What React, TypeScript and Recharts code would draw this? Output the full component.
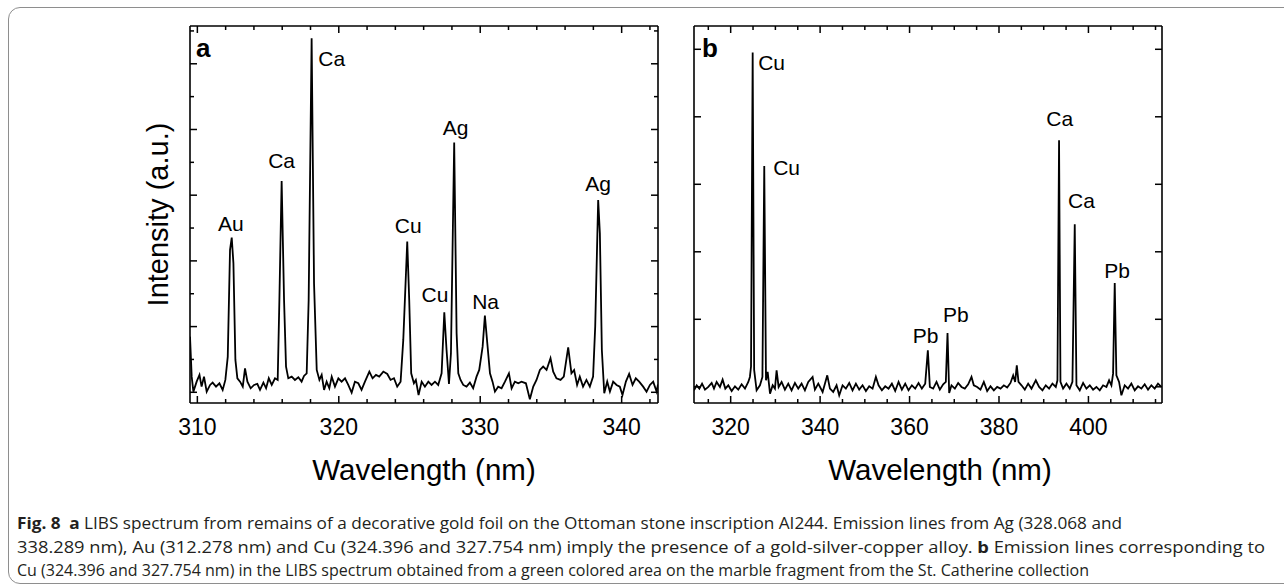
import { LineChart, Line, XAxis, YAxis, ReferenceDot } from "recharts";

const FONT = '"Liberation Sans", Arial, Helvetica, sans-serif';
const CAPTION_FONT = '"Open Sans", "Noto Sans", sans-serif';

// panel a: wavelength (nm), intensity (a.u.)
const spectrumA: [number, number][] = [
  [309.48, 847], [309.6, 238], [309.72, 10], [309.95, 162], [310.15, 264], [310.3, 86],
  [310.47, 238], [310.66, 10], [310.9, 112], [311.08, 147], [311.32, 86], [311.56, 137],
  [311.79, 36], [311.98, 188], [312.15, 543], [312.31, 2167], [312.43, 2354], [312.55, 1964],
  [312.69, 492], [312.83, 213], [313.02, 162], [313.21, 86], [313.37, 365], [313.54, 162],
  [313.77, 61], [314.01, 112], [314.24, 127], [314.43, 36], [314.67, 147], [314.86, 61],
  [315.05, 213], [315.26, 112], [315.49, 213], [315.68, 188], [315.8, 1405], [315.96, 3216],
  [316.13, 1405], [316.27, 391], [316.43, 213], [316.67, 238], [316.9, 188], [317.14, 228],
  [317.37, 162], [317.54, 249], [317.73, 289], [317.87, 1405], [318.08, 5388], [318.25, 1659],
  [318.44, 340], [318.63, 188], [318.79, 264], [318.96, 36], [319.14, 162], [319.33, 61],
  [319.5, 238], [319.73, 86], [319.97, 213], [320.2, 162], [320.44, 213], [320.67, 112],
  [320.91, -5], [321.14, 162], [321.38, 137], [321.61, 36], [321.85, 162], [322.16, 315],
  [322.39, 213], [322.63, 264], [322.86, 238], [323.15, 315], [323.43, 279], [323.66, 188],
  [323.9, 213], [324.13, 86], [324.37, 162], [324.56, 797], [324.84, 2293], [324.98, 1405],
  [325.12, 289], [325.31, 137], [325.45, 188], [325.64, -41], [325.86, 162], [326.09, 86],
  [326.33, 162], [326.56, 112], [326.8, 162], [327.03, 112], [327.27, 289], [327.46, 1218],
  [327.62, 644], [327.79, 127], [327.93, 594], [328.16, 3800], [328.33, 898], [328.45, 289],
  [328.61, 188], [328.8, 112], [329.03, 86], [329.27, 147], [329.5, 61], [329.74, 238],
  [329.93, 340], [330.17, 695], [330.33, 1167], [330.5, 746], [330.69, 289], [330.87, 162],
  [331.04, 10], [331.27, 86], [331.51, 61], [331.75, 162], [332.03, 289], [332.22, 61],
  [332.45, 162], [332.69, 137], [332.92, 162], [333.23, 137], [333.51, -107], [333.75, 86],
  [333.98, 188], [334.22, 340], [334.45, 391], [334.69, 340], [334.97, 518], [335.16, 315],
  [335.39, 213], [335.68, 188], [335.91, 238], [336.22, 685], [336.45, 289], [336.64, 340],
  [336.85, 112], [337.04, 238], [337.27, 86], [337.51, 188], [337.75, 86], [337.98, 238],
  [338.13, 1000], [338.34, 2927], [338.46, 2420], [338.6, 644], [338.77, -15], [338.98, 162],
  [339.17, 10], [339.4, 162], [339.64, 112], [339.87, 86], [340.06, -41], [340.3, 162],
  [340.53, 279], [340.77, 112], [341.0, 213], [341.24, 162], [341.52, 86], [341.76, 10],
  [342.0, 112], [342.23, 162], [342.47, 10], [342.57, 120],
];

// panel b
const spectrumB: [number, number][] = [
  [311.8, -52], [312.4, 22], [313.0, -27], [313.6, 47], [314.26, -42], [315.0, -2],
  [315.75, 57], [316.27, -27], [316.86, 72], [317.6, -2], [318.2, 106], [318.8, -27],
  [319.47, 22], [320.22, -62], [320.96, 7], [321.7, -42], [322.45, 37], [323.2, -27],
  [323.94, 72], [324.3, 146], [324.55, 300], [324.92, 4951], [325.25, 250], [325.8, -52],
  [326.55, 22], [327.1, 146], [327.51, 3271], [327.9, 96], [328.27, 220], [328.8, -101],
  [329.39, 22], [329.9, -27], [330.27, 244], [330.72, -2], [331.39, 72], [332.13, -42],
  [332.88, 47], [333.62, -52], [334.37, 57], [335.11, -27], [335.86, 47], [336.6, -52],
  [337.35, 72], [338.32, 146], [338.84, -42], [339.59, 47], [340.56, -77], [341.6, 170],
  [342.2, -27], [342.93, -77], [343.68, 22], [344.27, -126], [345.02, 22], [345.76, -27],
  [346.51, 57], [347.25, -52], [348.0, 47], [348.74, -42], [349.49, 22], [350.24, -62],
  [350.98, 7], [351.73, -27], [352.47, 146], [353.07, 22], [353.81, -52], [354.56, 7],
  [355.3, -27], [356.05, 47], [356.79, -62], [357.54, 72], [358.28, -42], [359.03, 47],
  [359.77, -52], [360.52, 22], [361.26, -27], [362.01, 57], [362.75, -27], [363.5, 47],
  [364.09, 541], [364.54, -2], [365.28, -27], [366.03, 72], [366.77, -42], [367.52, 37],
  [368.11, 72], [368.49, 797], [368.86, -91], [369.38, 22], [370.13, -27], [370.87, 57],
  [371.62, -2], [372.36, -27], [373.11, 37], [373.85, 146], [374.37, 22], [375.12, -2],
  [375.86, -42], [376.61, 72], [377.36, -62], [378.1, 7], [378.85, -52], [379.59, -2],
  [380.34, -27], [381.08, 22], [381.83, -12], [382.57, 57], [383.17, 170], [383.61, 72],
  [383.98, 318], [384.36, 72], [385.03, 22], [385.77, -42], [386.52, 47], [387.26, -27],
  [388.23, 96], [388.97, -2], [389.72, -52], [390.46, 22], [391.21, -27], [391.95, 47],
  [392.7, -2], [393.07, 96], [393.43, 3652], [393.74, 72], [394.33, -27], [395.08, 47],
  [395.82, -27], [396.42, 72], [396.94, 2407], [397.32, 22], [398.06, -52], [398.81, 57],
  [399.55, -27], [400.3, 22], [401.04, -42], [401.79, -2], [402.53, -52], [403.28, 22],
  [404.02, -2], [404.62, 96], [405.14, 22], [405.51, 195], [405.88, 1538], [406.25, 170],
  [406.85, 72], [407.37, -126], [408.11, 22], [408.86, -27], [409.6, 47], [410.35, -52],
  [411.09, 7], [411.84, -27], [412.58, 37], [413.33, -42], [414.07, 22], [414.82, -27],
  [415.56, 47], [416.31, -2],
];

const xTicksA = [310, 312, 314, 316, 318, 320, 322, 324, 326, 328, 330, 332, 334, 336, 338, 340, 342];
const yTicksA = [0, 500, 1000, 1500, 2000, 2500, 3000, 3500, 4000, 4500, 5000, 5500];
const xTicksB = [315, 320, 325, 330, 335, 340, 345, 350, 355, 360, 365, 370, 375, 380, 385, 390, 395, 400, 405, 410, 415];
const yTicksB = [0, 1000, 2000, 3000, 4000, 5000];

const peaksA = [
  { text: "Au", nm: 312.36, y: 2572 },
  { text: "Ca", nm: 315.96, y: 3525 },
  { text: "Ca", nm: 319.5, y: 5073 },
  { text: "Cu", nm: 324.91, y: 2531 },
  { text: "Cu", nm: 326.8, y: 1492 },
  { text: "Ag", nm: 328.26, y: 4033 },
  { text: "Na", nm: 330.38, y: 1379 },
  { text: "Ag", nm: 338.34, y: 3170 },
];

const peaksB = [
  { text: "Cu", nm: 329.16, y: 4797 },
  { text: "Cu", nm: 332.51, y: 3241 },
  { text: "Pb", nm: 363.58, y: 753 },
  { text: "Pb", nm: 370.35, y: 1070 },
  { text: "Ca", nm: 393.59, y: 3973 },
  { text: "Ca", nm: 398.44, y: 2753 },
  { text: "Pb", nm: 406.39, y: 1726 },
];

type Side = "bottom" | "top" | "left" | "right";

function makeTick(side: Side, isMajor: (v: number) => boolean, labels: boolean, majorLen = 7, minorLen = 4) {
  return (props: any) => {
    const { x, y, payload } = props;
    const v = payload.value;
    const len = isMajor(v) ? majorLen : minorLen;
    let x2 = x;
    let y2 = y;
    if (side === "bottom") y2 = y - len;
    if (side === "top") y2 = y + len;
    if (side === "left") x2 = x + len;
    if (side === "right") x2 = x - len;
    return (
      <g>
        <line x1={x} y1={y} x2={x2} y2={y2} stroke="#000" strokeWidth={1.5} />
        {labels && isMajor(v) && (
          <text x={x} y={y + 32} textAnchor="middle" fontSize={23} fontFamily={FONT} fill="#000">
            {v}
          </text>
        )}
      </g>
    );
  };
}

const axisLine = { stroke: "#000", strokeWidth: 1.6 };
const peakLabel = (text: string) => ({
  value: text,
  position: "center" as const,
  fill: "#000",
  fontSize: 21,
  fontFamily: FONT,
});
const panelLabel = (text: string) => ({
  value: text,
  position: "center" as const,
  fill: "#000",
  fontSize: 26,
  fontWeight: 700,
  fontFamily: FONT,
});

function Panel(props: {
  data: [number, number][];
  xDomain: [number, number];
  yDomain: [number, number];
  xTicks: number[];
  yTicks: number[];
  xMajor: (v: number) => boolean;
  yMajor: (v: number) => boolean;
  yMinorLen: number;
  peaks: { text: string; nm: number; y: number }[];
  letter: { text: string; nm: number; y: number };
  margin: { top: number; right: number; bottom: number; left: number };
  width: number;
  yLabel?: boolean;
  xLabelDx?: number;
}) {
  const rows = props.data.map(([nm, v]) => ({ nm, v }));
  return (
    <LineChart width={props.width} height={500} data={rows} margin={props.margin}>
      <XAxis
        xAxisId="b"
        dataKey="nm"
        type="number"
        domain={props.xDomain}
        allowDataOverflow
        ticks={props.xTicks}
        interval={0}
        height={1}
        tickSize={0}
        tickMargin={0}
        tickLine={false}
        axisLine={axisLine}
        tick={makeTick("bottom", props.xMajor, true)}
        label={{
          value: "Wavelength (nm)",
          position: "bottom",
          offset: 55,
          dx: props.xLabelDx ?? 0,
          fontSize: 29.5,
          fill: "#000",
          fontFamily: FONT,
        }}
      />
      <XAxis
        xAxisId="t"
        orientation="top"
        dataKey="nm"
        type="number"
        domain={props.xDomain}
        allowDataOverflow
        ticks={props.xTicks}
        interval={0}
        height={1}
        tickSize={0}
        tickMargin={0}
        tickLine={false}
        axisLine={axisLine}
        tick={makeTick("top", props.xMajor, false)}
      />
      <YAxis
        yAxisId="l"
        type="number"
        domain={props.yDomain}
        allowDataOverflow
        ticks={props.yTicks}
        interval={0}
        width={1}
        tickSize={0}
        tickMargin={0}
        tickLine={false}
        axisLine={axisLine}
        tick={makeTick("left", props.yMajor, false, 7, props.yMinorLen)}
        label={
          props.yLabel
            ? {
                value: "Intensity (a.u.)",
                position: "left",
                offset: 31,
                angle: -90,
                fontSize: 29,
                fill: "#000",
                fontFamily: FONT,
                style: { textAnchor: "middle" },
              }
            : undefined
        }
      />
      <YAxis
        yAxisId="r"
        orientation="right"
        type="number"
        domain={props.yDomain}
        allowDataOverflow
        ticks={props.yTicks}
        interval={0}
        width={1}
        tickSize={0}
        tickMargin={0}
        tickLine={false}
        axisLine={axisLine}
        tick={makeTick("right", props.yMajor, false, 7, props.yMinorLen)}
      />
      <Line
        xAxisId="b"
        yAxisId="l"
        dataKey="v"
        type="linear"
        stroke="#000"
        strokeWidth={1.8}
        dot={false}
        activeDot={false}
        isAnimationActive={false}
      />
      {props.peaks.map((p, i) => (
        <ReferenceDot key={i} xAxisId="b" yAxisId="l" x={p.nm} y={p.y} r={0} ifOverflow="visible" label={peakLabel(p.text)} />
      ))}
      <ReferenceDot
        xAxisId="b"
        yAxisId="l"
        x={props.letter.nm}
        y={props.letter.y}
        r={0}
        ifOverflow="visible"
        label={panelLabel(props.letter.text)}
      />
    </LineChart>
  );
}

export default function App() {
  return (
    <div
      style={{
        position: "absolute",
        left: 0,
        top: 0,
        width: 1284,
        height: 584,
        overflow: "hidden",
        background: "#fff",
        fontFamily: FONT,
      }}
    >
      <div
        style={{
          position: "absolute",
          left: 8,
          top: 7,
          width: 1310,
          height: 575,
          border: "1.5px solid #8e8e8e",
          borderRadius: 12,
        }}
      />
      <div style={{ position: "absolute", left: 130, top: 0 }}>
        <Panel
          data={spectrumA}
          xDomain={[309.48, 342.57]}
          yDomain={[-163, 5575]}
          xTicks={xTicksA}
          yTicks={yTicksA}
          xMajor={(v) => v % 10 === 0}
          yMajor={(v) => v % 1000 === 0}
          yMinorLen={4}
          peaks={peaksA}
          letter={{ text: "a", nm: 310.42, y: 5251 }}
          margin={{ top: 25, right: 31, bottom: 96, left: 59 }}
          width={560}
          yLabel
        />
      </div>
      <div style={{ position: "absolute", left: 670, top: 0 }}>
        <Panel
          data={spectrumB}
          xDomain={[311.8, 416.45]}
          yDomain={[-240, 5345]}
          xTicks={xTicksB}
          yTicks={yTicksB}
          xMajor={(v) => v % 20 === 0}
          yMajor={() => true}
          yMinorLen={7}
          peaks={peaksB}
          letter={{ text: "b", nm: 315.37, y: 5025 }}
          margin={{ top: 25, right: 27, bottom: 96, left: 23 }}
          width={520}
          xLabelDx={12}
        />
      </div>
      <svg width={1284} height={94} style={{ position: "absolute", left: 0, top: 490 }}>
        <g fontFamily={CAPTION_FONT} fontSize={16} fill="#231f20">
          <text x={17} y={39} textLength={1105} lengthAdjust="spacingAndGlyphs">
            <tspan fontWeight={700}>Fig. 8</tspan>
            <tspan dx={8} fontWeight={700}>a</tspan>
            <tspan> LIBS spectrum from remains of a decorative gold foil on the Ottoman stone inscription AI244. Emission lines from Ag (328.068 and</tspan>
          </text>
          <text x={17} y={63} textLength={1248} lengthAdjust="spacingAndGlyphs">
            <tspan>338.289 nm), Au (312.278 nm) and Cu (324.396 and 327.754 nm) imply the presence of a gold-silver-copper alloy. </tspan>
            <tspan fontWeight={700}>b</tspan>
            <tspan> Emission lines corresponding to</tspan>
          </text>
          <text x={17} y={86} textLength={1072} lengthAdjust="spacingAndGlyphs">
            Cu (324.396 and 327.754 nm) in the LIBS spectrum obtained from a green colored area on the marble fragment from the St. Catherine collection
          </text>
        </g>
      </svg>
    </div>
  );
}
